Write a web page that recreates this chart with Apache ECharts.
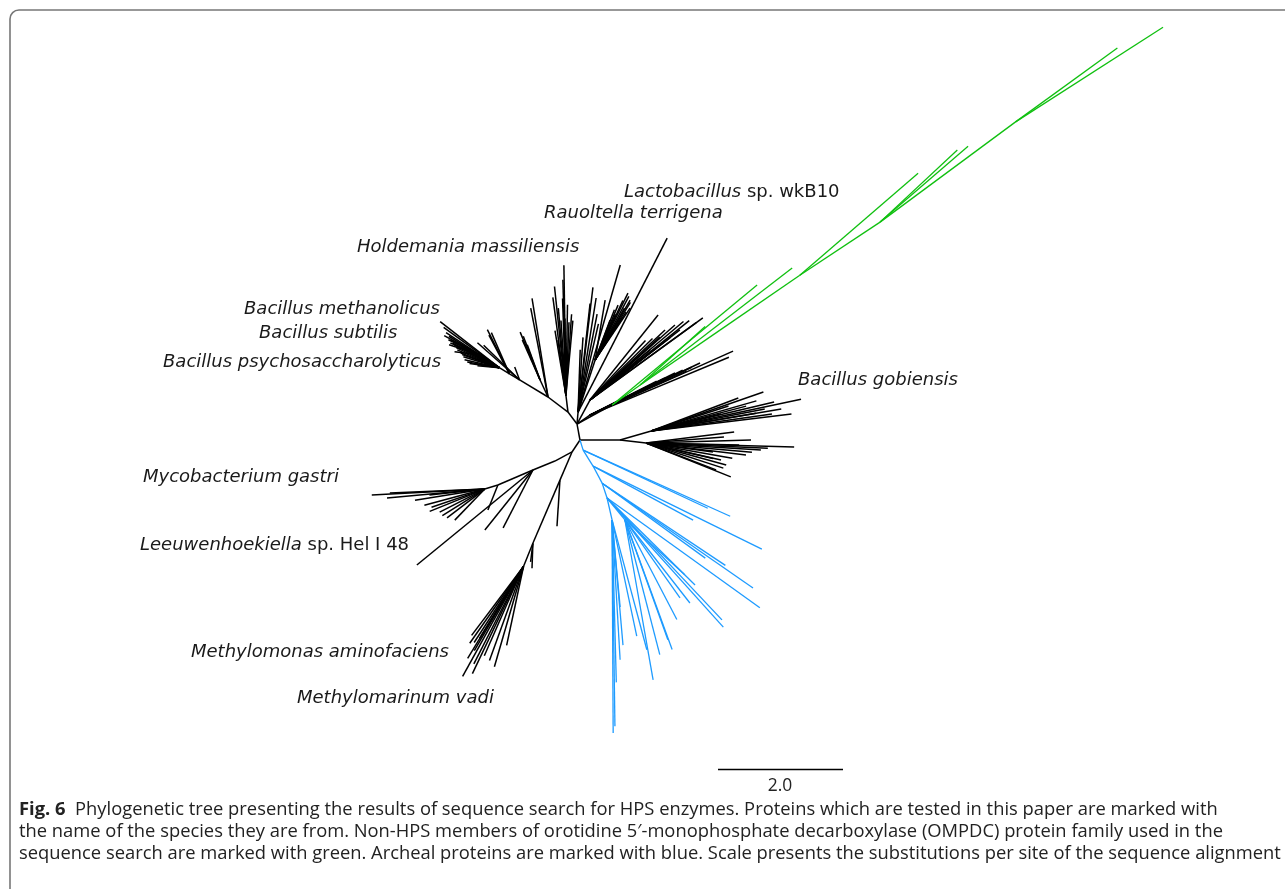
<!DOCTYPE html>
<html><head><meta charset="utf-8">
<script src="https://cdn.jsdelivr.net/npm/echarts@6/dist/echarts.min.js"></script>
<style>html,body{margin:0;padding:0;background:#fff}#c{width:1285px;height:889px}</style>
</head><body><div id="c"></div>
<script>
// ---- DATA: branches as [nodeId, parentId, angleDeg, length (substitutions/site)]; '' = leaf ----
const upperLeftBranches = [
  ['A1','R',100.6,0.26],['A2','A1',127,0.24],['A3','A2',143,0.40],['A4','A3',149,0.53],['A5','A4',149,0.19],['B1','A5',149,0.19],
  ['','B1',142,1.20],['','B1',144,1.10],['','B1',146.6,1.02],['','B1',148,0.95],['','B1',150,0.89],['','B1',152,0.84],
  ['','B1',153,0.81],['','B1',155,0.76],['','B1',157,0.73],['','B1',159,0.66],['','B1',160.6,0.63],['','B1',163,0.60],
  ['','B1',167,0.57],['','B1',170,0.52],['','B1',172,0.48],['','B1',175,0.35],
  ['B2','B1',147,0.38],['','B2',151.5,0.64],['','B2',161.6,0.51],['','B2',173,0.40],['','B2',154,0.55],['','B2',158,0.50],
  ['','A5',116.6,0.79],['','A5',113.7,0.72],['','A5',118,0.70],['','A4',138.6,0.90],['','A4',136,0.80],['','A4',111,0.22],
  ['C1','A3',115,0.30],['','C1',112.6,0.83],['','C1',111,0.75],['','C1',110,0.60],['','C1',114,0.70],['','A3',99.2,1.60],
  ['','A3',101,1.45],
  ['D1','A2',97,0.27],['','D1',97.6,1.58],['','D1',90.9,2.08],['','D1',93.8,1.20],['','D1',90.7,1.23],
  ['','D1',87.6,1.17],['','D1',84.7,1.20],['','D1',99.6,1.05],['','D1',98.3,0.89],['','D1',92,1.55],['','D1',95,1.40],
  ['','D1',89,1.45],['','D1',96,1.75],['','D1',86,1.30],['','D1',91.5,1.85],
  ['E1','A1',85,0.19],['','E1',74,2.45],['','E1',83.2,2.01],['','E1',83.7,1.75],['','E1',86.2,1.20],['','E1',88,1.0],
  ['','E1',81,1.85],['','E1',79,1.60],['','E1',77,1.45],['','E1',62.9,3.13],
  ['E2','E1',71.9,0.88],['','E2',63.8,1.19],['','E2',59.7,1.11],['','E2',56,1.00],['','E2',57.1,0.91],['','E2',57.3,0.80],
  ['','E2',67.3,0.95],['','E2',69,0.86],['','E2',69.4,0.68],['','E2',80.5,0.97],['','E2',62,1.15],['','E2',65,1.05],
  ['','E2',60.5,0.95],['','E2',58.5,1.08],['','E2',66,0.80],
  ['F1','A1',61.6,0.44],['','F1',51.3,1.74],['','F1',38.6,2.03],['','F1',36,2.23],['','F1',36,2.10],['','F1',37.9,1.82],
  ['','F1',37.8,1.62],['','F1',38.2,1.42],['','F1',39.8,1.25],['','F1',41.4,1.81],['','F1',43,1.64],['','F1',40,1.95],
  ['','F1',42,1.50],['','F1',44.5,1.40],['','F1',47,1.30],
  ['G1','A1',34.7,0.25],['','G1',24.1,2.51],['','G1',22.6,2.41],['','G1',25.2,1.80],['','G1',25.8,1.65],['','G1',25.3,1.95],
  ['','G1',26.3,1.52],['','G1',26.3,1.34],['','G1',27,1.20],['','G1',24.5,1.70],
  ['GR0','A1',28.5,0.64]
];
const greenBranches = [
  ['','GR0',39.6,3.01],['GR1','GR0',35.5,0.55],['','GR1',37.6,3.07],['','GR1',42,1.40],
  ['GR2','GR1',34.5,1.55],['GR3','GR2',34.5,1.55],['','GR3',40.8,2.50],['GR4','GR3',33.5,1.54],
  ['','GR4',40.8,1.86],['','GR4',43,1.69],['GR5','GR4',36.5,2.69],['','GR5',32.7,2.81],['','GR5',36,2.02]
];
const rightBranches = [
  ['H1','R',0,0.64],
  ['H2','H1',16,0.52],['','H2',12,2.45],['','H2',19.2,1.90],['','H2',20.8,1.49],['','H2',13.3,2.02],['','H2',6.9,2.26],
  ['','H2',9.7,1.70],['','H2',9.6,2.11],['','H2',14.7,1.57],['','H2',13.7,1.15],['','H2',11,1.85],['','H2',16,1.75],
  ['','H2',8,1.95],['','H2',18,1.30],
  ['H3','H1',-6.6,0.42],['','H3',-1.5,2.37],['','H3',4.4,1.25],['','H3',-21.8,1.46],['','H3',-3.5,1.84],['','H3',-6.8,1.61],
  ['','H3',-1.2,1.49],['','H3',-12.8,1.23],['','H3',-15.4,1.33],['','H3',-7.7,1.08],['','H3',1.6,1.68],['','H3',-21,1.20],
  ['','H3',7.1,1.42],['','H3',-10,1.40],['','H3',-5,1.70],['','H3',-18,1.30],['','H3',-2.5,1.95],['','H3',-13,1.10]
];
const blueBranches = [
  ['Bl1','R',-73,0.17],['','Bl1',-24.2,2.58],['','Bl1',-25,2.20],
  ['Bl2','Bl1',-58,0.30],['','Bl2',-26.2,3.01],['','Bl2',-28.4,1.82],
  ['Bl3','Bl2',-62,0.31],['','Bl3',-34.8,2.94],['','Bl3',-36,2.04],['','Bl3',-33.7,2.37],
  ['Bl4','Bl3',-71.6,0.25],['','Bl4',-35.7,3.01],['','Bl4',-48,2.78],['','Bl4',-46.7,2.68],['','Bl4',-44.7,1.98],
  ['Bl4b','Bl4',-50.7,0.45],['','Bl4b',-54.8,1.53],['','Bl4b',-52,1.69],['','Bl4b',-62.5,1.80],['','Bl4b',-70.3,2.04],
  ['','Bl4b',-70,2.21],['','Bl4b',-80,2.60],['','Bl4b',-75.5,2.23],['','Bl4b',-42.5,1.30],
  ['Bl5','Bl4',-77.2,0.36],['','Bl5',-85,2.01],['','Bl5',-86.7,2.24],['','Bl5',-75,2.15],['','Bl5',-78,1.90],
  ['','Bl5',-84.7,1.40],['','Bl5',-89.7,3.41],['','Bl5',-89.2,3.30],['','Bl5',-88.5,2.6]
];
const lowerLeftBranches = [
  ['L0','R',-123.7,0.23],['L1','L0',-152,0.31],['M0','L0',-113.2,0.49],['','M0',-93.7,0.74],
  ['M1','M0',-113.2,1.10],['','M1',-92,0.40],['','M1',-97,0.30],['M2','M1',-112,0.40],
  ['','M2',-127,1.38],['','M2',-125,1.50],['','M2',-120.3,1.56],['','M2',-119,2.01],['','M2',-115.5,1.90],
  ['','M2',-113.7,1.56],['','M2',-106.2,1.67],['','M2',-102.1,1.29],['','M2',-121.4,1.35],['','M2',-109.9,1.60],
  ['','M2',-121.3,1.72],['','M2',-123,1.45],['','M2',-117,1.75],
  ['L2','L1',-157.8,0.38],['','L2',-140.7,2.40],['','L2',-117.3,1.04],['','L2',-128.7,1.23],
  ['L3','L2',-156.8,0.61],['','L3',-111.8,0.43],['L4','L3',-162.9,0.22],
  ['','L4',-177,1.81],['','L4',-174.8,1.57],['','L4',-177.6,1.52],['','L4',-161.2,0.90],['','L4',-142.6,0.76],
  ['','L4',-152.9,0.81],['','L4',-134,0.69],['','L4',-171,1.13],['','L4',-173.8,0.89],['','L4',-158,0.95],
  ['','L4',-148,0.80],['','L4',-165,1.00]
];
// species labels: [italic part, roman part]
const speciesLabels = [
  ['Lactobacillus',' sp. wkB10'],['Rauoltella terrigena',''],['Holdemania massiliensis',''],
  ['Bacillus methanolicus',''],['Bacillus subtilis',''],['Bacillus psychosaccharolyticus',''],
  ['Bacillus gobiensis',''],['Mycobacterium gastri',''],['Leeuwenhoekiella',' sp. Hel I 48'],
  ['Methylomonas aminofaciens',''],['Methylomarinum vadi','']
];
const scaleBarLength = 2.0;
const captionLines = [
  ['Fig. 6','  Phylogenetic tree presenting the results of sequence search for HPS enzymes. Proteins which are tested in this paper are marked with'],
  ['','the name of the species they are from. Non-HPS members of orotidine 5\u2032-monophosphate decarboxylase (OMPDC) protein family used in the'],
  ['','sequence search are marked with green. Archeal proteins are marked with blue. Scale presents the substitutions per site of the sequence alignment']
];

// ---- LAYOUT ----
const W = 1285, H = 889, PX = 62.5, ROOT = [580, 440];
const labelPos = [[624,192],[544,213],[357,247],[244,309],[259,333],[163,362],[798,380],[143,477],[140,545],[191,652],[297,698]];
const captionY = [810, 832, 854];

const pos = {R:[0,0]};
function build(arr){
  const segs = [];
  for (const [id, parent, ang, len] of arr){
    const p = pos[parent], a = ang*Math.PI/180;
    const q = [p[0]+len*Math.cos(a), p[1]+len*Math.sin(a)];
    if (id) pos[id] = q;
    segs.push({coords:[p, q]});
  }
  return segs;
}
const blackSegs = build(upperLeftBranches).concat(build(rightBranches), build(lowerLeftBranches));
const greenSegs = build(greenBranches);
const blueSegs = build(blueBranches);
const sbX = (718-ROOT[0])/PX, sbY = (ROOT[1]-769)/PX;
const scaleSegs = [{coords:[[sbX,sbY],[sbX+scaleBarLength,sbY]]}];

function linesSeries(data, color, width){
  return {type:'lines', coordinateSystem:'cartesian2d', polyline:false, silent:true, animation:false,
    data, lineStyle:{color, width, opacity:1}, effect:{show:false}};
}

const capFont = '"Open Sans", "Noto Sans", sans-serif';
const cv = document.createElement('canvas').getContext('2d');
cv.font = '20px ' + capFont;
const w3 = cv.measureText(captionLines[2][1]).width;
const capSize = 20 * 1263 / w3;

const labelFont = '"DejaVu Sans", Verdana, sans-serif';
const graphics = [
  {type:'rect', shape:{x:10, y:10, width:1400, height:1000, r:9}, style:{fill:'none', stroke:'#777', lineWidth:1.6}, silent:true}
];
speciesLabels.forEach((l, i) => {
  graphics.push({type:'text', x:labelPos[i][0], y:labelPos[i][1], silent:true,
    style:{text:'{i|'+l[0]+'}'+(l[1]?'{n|'+l[1]+'}':''), verticalAlign:'middle', align:'left',
      rich:{i:{fontFamily:labelFont, fontStyle:'italic', fontSize:18, fill:'#1a1a1a'},
            n:{fontFamily:labelFont, fontSize:18, fill:'#1a1a1a'}}}});
});
graphics.push({type:'text', x:780, y:786, silent:true,
  style:{text:scaleBarLength.toFixed(1), align:'center', verticalAlign:'middle', fontFamily:capFont, fontSize:capSize*0.95, fill:'#222'}});
captionLines.forEach((c, i) => {
  graphics.push({type:'text', x:19, y:captionY[i], silent:true,
    style:{text:(c[0]?'{b|'+c[0]+'}':'')+'{n|'+c[1]+'}', verticalAlign:'middle', align:'left',
      rich:{b:{fontFamily:capFont, fontWeight:'bold', fontSize:capSize, fill:'#222'},
            n:{fontFamily:capFont, fontSize:capSize, fill:'#222'}}}});
});

const chart = echarts.init(document.getElementById('c'), null, {renderer:'canvas'});
chart.setOption({
  animation:false,
  backgroundColor:'#fff',
  grid:{left:0, right:0, top:0, bottom:0, containLabel:false},
  xAxis:{type:'value', min:-ROOT[0]/PX, max:(W-ROOT[0])/PX, show:false, splitLine:{show:false}},
  yAxis:{type:'value', min:-(H-ROOT[1])/PX, max:ROOT[1]/PX, show:false, splitLine:{show:false}},
  series:[linesSeries(blackSegs,'#000',1.5), linesSeries(blueSegs,'#1e9bff',1.3), linesSeries(greenSegs,'#10c010',1.3),
          linesSeries(scaleSegs,'#000',1.3)],
  graphic:graphics
});
</script></body></html>
